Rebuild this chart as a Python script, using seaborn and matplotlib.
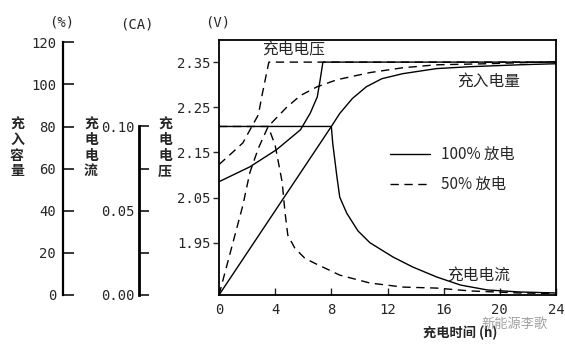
import matplotlib
matplotlib.use("Agg")
import matplotlib.pyplot as plt
from matplotlib.lines import Line2D
from matplotlib.ticker import FixedLocator
import seaborn as sns

# ---------------- data ----------------
# charge voltage (V)
volt_time_100 = [0, 2.2, 4.1, 5.8, 6.5, 7.0, 7.2, 7.4, 24]
volt_100 = [2.085, 2.118, 2.156, 2.200, 2.237, 2.273, 2.310, 2.35, 2.35]
volt_time_50 = [0, 1.0, 1.7, 2.4, 2.8, 3.1, 3.55, 24]
volt_50 = [2.123, 2.151, 2.171, 2.211, 2.233, 2.282, 2.35, 2.35]

# charge current (CA)
curr_time_100 = [0, 8.0, 8.1, 8.4, 8.6, 9.1, 9.9, 10.75, 12.4, 13.8, 15.5, 17.2, 19.1, 21.4, 24]
curr_100 = [0.1, 0.1, 0.090, 0.070, 0.058, 0.0485, 0.038, 0.031, 0.0225, 0.0166,
            0.0107, 0.0059, 0.0030, 0.0018, 0.0012]
curr_time_50 = [0, 3.5, 4.0, 4.5, 4.7, 4.9, 5.4, 6.1, 6.8, 8.6, 10.75, 13.1, 15.5, 17.9, 21.4, 24]
curr_50 = [0.1, 0.1, 0.0888, 0.0669, 0.0491, 0.0355, 0.0278, 0.0219, 0.0189, 0.0118,
           0.0071, 0.0047, 0.0041, 0.0024, 0.0012, 0.0009]

# charged capacity (%)
cap_time_100 = [0, 8.0, 8.6, 9.5, 10.5, 11.6, 13.1, 15.5, 17.9, 21.4, 24]
cap_100 = [0, 80, 86.2, 93.3, 98.9, 102.7, 105.1, 107.5, 108.4, 109.3, 109.8]
cap_time_50 = [0, 1.7, 2.2, 2.8, 3.5, 4.8, 5.8, 7.0, 8.4, 10.75, 13.1, 15.5, 19.1, 24]
cap_50 = [0, 42.6, 58.2, 69.6, 80, 89.0, 94.7, 98.9, 102.2, 105.6, 107.9, 109.3, 109.8, 110.8]

x_ticks = [0, 4, 8, 12, 16, 20, 24]
v_ticks = [1.95, 2.05, 2.15, 2.25, 2.35]
cap_ticks = [0, 20, 40, 60, 80, 100, 120]
curr_ticks = [0.0, 0.05, 0.10]
curr_minor = [0.025, 0.075]

# ---------------- style ----------------
sns.set_theme(style="ticks")
plt.rcParams['font.family'] = ['Noto Sans CJK SC', 'DejaVu Sans']
MONO = ['DejaVu Sans Mono', 'Noto Sans CJK SC']

W, H = 565, 344
fig = plt.figure(figsize=(W / 100, H / 100), dpi=100)
fig.patch.set_facecolor('white')


def px(x, y):
    return x / W, 1 - y / H


rect = [219 / W, 1 - 295 / H, (556 - 219) / W, (295 - 40) / H]
ax_v = fig.add_axes(rect)
ax_i = fig.add_axes(rect, sharex=ax_v)
ax_c = fig.add_axes(rect, sharex=ax_v)

ax_v.set_xlim(0, 24)
ax_v.set_ylim(1.834, 2.399)
ax_i.set_ylim(0, 0.1513)
ax_c.set_ylim(0, 121.07)

LW = 1.0
DASH = (0, (6, 4))
common = dict(color='black', linewidth=LW, estimator=None, sort=False, legend=False)

sns.lineplot(x=volt_time_100, y=volt_100, ax=ax_v, **common)
sns.lineplot(x=volt_time_50, y=volt_50, ax=ax_v, linestyle=DASH, **common)
sns.lineplot(x=curr_time_100, y=curr_100, ax=ax_i, **common)
sns.lineplot(x=curr_time_50, y=curr_50, ax=ax_i, linestyle=DASH, **common)
sns.lineplot(x=cap_time_100, y=cap_100, ax=ax_c, **common)
sns.lineplot(x=cap_time_50, y=cap_50, ax=ax_c, linestyle=DASH, **common)

# main (voltage) axes
for s in ax_v.spines.values():
    s.set_visible(True)
    s.set_linewidth(1.3)
    s.set_color('black')
ax_v.set_xticks(x_ticks)
ax_v.set_yticks(v_ticks)
ax_v.set_yticklabels([f"{v:.2f}" for v in v_ticks], family=MONO, fontsize=10)
ax_v.set_xticklabels([str(v) for v in x_ticks], family=MONO, fontsize=10)
ax_v.tick_params(axis='x', direction='in', length=5, width=1, pad=6, bottom=True, top=False)
ax_v.tick_params(axis='y', direction='out', length=4, width=1, pad=2, left=True, right=False)
ax_v.set_xlabel('')
ax_v.set_ylabel('')
ax_v.grid(False)

# overlay axes: only their left spines, moved to the left
for ax in (ax_i, ax_c):
    ax.patch.set_visible(False)
    for k in ('top', 'right', 'bottom'):
        ax.spines[k].set_visible(False)
    ax.tick_params(axis='x', bottom=False, labelbottom=False)
    ax.set_xlabel('')
    ax.set_ylabel('')
    ax.grid(False)

ax_c.spines['left'].set_position(('axes', (63 - 219) / 337))
ax_c.spines['left'].set_bounds(0, 120)
ax_c.spines['left'].set_linewidth(1.6)
ax_c.spines['left'].set_color('black')
ax_c.set_yticks(cap_ticks)
ax_c.set_yticklabels([str(v) for v in cap_ticks], family=MONO, fontsize=10)
ax_c.tick_params(axis='y', direction='in', length=8, width=1.3, pad=5, left=True)

ax_i.spines['left'].set_position(('axes', (139 - 219) / 337))
ax_i.spines['left'].set_bounds(0, 0.10)
ax_i.spines['left'].set_linewidth(2.0)
ax_i.spines['left'].set_color('black')
ax_i.set_yticks(curr_ticks)
ax_i.set_yticklabels([f"{v:.2f}" for v in curr_ticks], family=MONO, fontsize=10)
ax_i.yaxis.set_minor_locator(FixedLocator(curr_minor))
ax_i.tick_params(axis='y', which='both', direction='in', length=7, width=1.3, pad=3, left=True)

# units
fig.text(*px(62, 22), '(%)', ha='center', va='center', family=MONO, fontsize=10)
fig.text(*px(137, 24), '(CA)', ha='center', va='center', family=MONO, fontsize=10)
fig.text(*px(218, 22), '(V)', ha='center', va='center', family=MONO, fontsize=10)

# vertical axis titles
for xx, s in ((17, '充入容量'), (91, '充电电流'), (165, '充电电压')):
    fig.text(*px(xx, 148), '\n'.join(s), ha='center', va='center', fontsize=10,
             fontweight='bold', linespacing=1.15)

# curve labels
fig.text(*px(262, 50), '充电电压', ha='left', va='center', fontsize=11.3)
fig.text(*px(457, 81), '充入电量', ha='left', va='center', fontsize=11.3)
fig.text(*px(447, 275), '充电电流', ha='left', va='center', fontsize=11.3)

# x label
fig.text(*px(460, 333), '充电时间 (h)', ha='center', va='center', fontsize=9.5, fontweight='bold')

# watermark
fig.text(*px(515, 324), '新能源李歌', ha='center', va='center', fontsize=9.5, color='#a0a0a0')

# legend
handles = [Line2D([], [], color='black', lw=LW),
           Line2D([], [], color='black', lw=LW, linestyle=DASH)]
fig.legend(handles, ['100% 放电', '50% 放电'], loc='center left',
           bbox_to_anchor=px(390, 169.5), bbox_transform=fig.transFigure,
           frameon=False, fontsize=11, handlelength=2.6, handletextpad=0.75,
           labelspacing=0.85, borderpad=0, borderaxespad=0)

fig.savefig('out.png', dpi=100, facecolor='white')
